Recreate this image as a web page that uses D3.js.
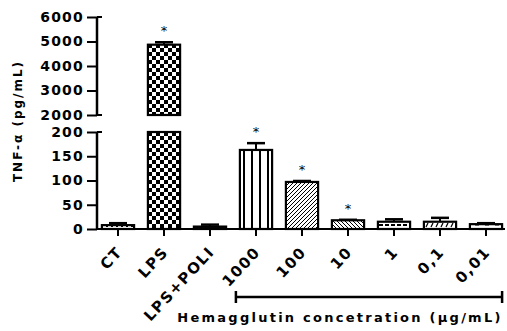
<!DOCTYPE html>
<html>
<head>
<script src="https://cdn.jsdelivr.net/npm/d3@7"></script>
<style>
  body { margin: 0; background: #fff; }
  svg { display: block; }
  text { font-family: "DejaVu Sans", sans-serif; font-weight: bold; fill: #000; }
</style>
</head>
<body>
<svg id="chart" width="507" height="331"></svg>
<script>
// data
var groups = ["CT", "LPS", "LPS+POLI", "1000", "100", "10", "1", "0,1", "0,01"];
var means  = [8, 4870, 5, 163, 97, 18, 15, 15, 10];
var errs   = [4, 100, 4, 14, 2, 1, 5, 8, 2];
var sig    = [false, true, false, true, true, true, false, false, false];
var fills  = ["dots", "checker", "solid", "vstripe", "hatchR", "hatchL", "bricks", "dashR", "dashH"];
var upperTicks = [2000, 3000, 4000, 5000, 6000];
var lowerTicks = [0, 50, 100, 150, 200];
var bracketFrom = "1000", bracketTo = "0,01";
var yTitle = "TNF-\u03b1 (pg/mL)";
var xTitle = "Hemagglutin concetration (\u00b5g/mL)";

var svg = d3.select("#chart");
var axisX = 97;

var x = d3.scaleBand().domain(groups).range([95, 509]).paddingInner(0.3).paddingOuter(0.15);
var yLow = d3.scaleLinear().domain([0, 200]).range([229, 132]);
var yUp = d3.scaleLinear().domain([2000, 6000]).range([115, 17]);

function yOf(v) { return v <= 200 ? yLow(v) : yUp(v); }

/*** patterns ***/
var defs = svg.append("defs");
function pat(id, w, h) {
  var p = defs.append("pattern").attr("id", id).attr("patternUnits", "userSpaceOnUse")
    .attr("width", w).attr("height", h);
  p.append("rect").attr("width", w).attr("height", h).attr("fill", "#fff");
  return p;
}
var p;
p = pat("dots", 5, 4);
p.append("rect").attr("x", 1).attr("y", 1).attr("width", 2).attr("height", 2).attr("fill", "#000");
p = pat("checker", 8, 8);
p.append("rect").attr("width", 4).attr("height", 4).attr("fill", "#000");
p.append("rect").attr("x", 4).attr("y", 4).attr("width", 4).attr("height", 4).attr("fill", "#000");
p = pat("solid", 4, 4);
p.select("rect").attr("fill", "#111");
p = pat("vstripe", 8, 8);
p.append("rect").attr("x", 3).attr("width", 2).attr("height", 8).attr("fill", "#000");
p = pat("hatchR", 4, 4);
p.append("path").attr("d", "M-1,1 L1,-1 M0,4 L4,0 M3,5 L5,3").attr("stroke", "#000").attr("stroke-width", 1);
p = pat("hatchL", 4, 4);
p.append("path").attr("d", "M-1,3 L1,5 M0,0 L4,4 M3,-1 L5,1").attr("stroke", "#000").attr("stroke-width", 1);
p = pat("bricks", 6, 6);
p.append("rect").attr("x", 1).attr("y", 2).attr("width", 4).attr("height", 2).attr("fill", "#000");
p = pat("dashR", 5, 6);
p.append("path").attr("d", "M1,5 L3,1").attr("stroke", "#000").attr("stroke-width", 1.2);
p = pat("dashH", 10, 6);
p.append("rect").attr("x", 5).attr("y", 2).attr("width", 4).attr("height", 1.5).attr("fill", "#000");

/*** bars ***/
var bars = svg.append("g");
groups.forEach(function(g, i) {
  var v = means[i];
  var bx = x(g), bw = x.bandwidth();
  var f = "url(#" + fills[i] + ")";
  if (v <= 200) {
    bars.append("rect").attr("x", bx).attr("y", yLow(v)).attr("width", bw)
      .attr("height", yLow(0) - yLow(v)).attr("fill", f).attr("stroke", "#000").attr("stroke-width", 2.2);
  } else {
    bars.append("rect").attr("x", bx).attr("y", yLow(200)).attr("width", bw)
      .attr("height", yLow(0) - yLow(200)).attr("fill", f).attr("stroke", "#000").attr("stroke-width", 2.2);
    bars.append("rect").attr("x", bx).attr("y", yUp(v)).attr("width", bw)
      .attr("height", yUp(2000) - yUp(v)).attr("fill", f).attr("stroke", "#000").attr("stroke-width", 2.2);
  }
  // error bar (upper only)
  var cx = bx + bw / 2, top = yOf(v + errs[i]);
  bars.append("line").attr("x1", cx).attr("x2", cx).attr("y1", yOf(v)).attr("y2", top)
    .attr("stroke", "#000").attr("stroke-width", 2);
  bars.append("line").attr("x1", cx - 9).attr("x2", cx + 9).attr("y1", top).attr("y2", top)
    .attr("stroke", "#000").attr("stroke-width", 2.5);
  if (sig[i]) {
    bars.append("text").attr("x", cx).attr("y", top - 7).attr("text-anchor", "middle")
      .style("font-size", "13px").style("font-weight", "normal").text("*");
  }
});

/*** y axis (broken) ***/
function yAxis(scale, ticks) {
  var g = svg.append("g").attr("transform", "translate(" + axisX + ",0)")
    .call(d3.axisLeft(scale).tickValues(ticks).tickSize(10).tickPadding(3).tickFormat(d3.format("d")));
  g.select(".domain").attr("d", "M0," + scale.range()[0] + "V" + scale.range()[1])
    .attr("stroke", "#000").attr("stroke-width", 2.5);
  g.selectAll(".tick line").attr("stroke", "#000").attr("stroke-width", 2);
  g.selectAll(".tick text").style("font-size", "14px").style("letter-spacing", "1.2px").attr("fill", "#000");
  g.attr("font-family", null).attr("font-size", null);
  return g;
}
yAxis(yUp, upperTicks);
yAxis(yLow, lowerTicks);
// small end stubs of the axis break
[yUp(6000), yUp(2000), yLow(200)].forEach(function(yy) {
  svg.append("line").attr("x1", axisX).attr("x2", axisX + 5).attr("y1", yy).attr("y2", yy)
    .attr("stroke", "#000").attr("stroke-width", 2);
});

/*** x axis ***/
var xg = svg.append("g").attr("transform", "translate(0," + yLow(0) + ")")
  .call(d3.axisBottom(x).tickSize(7).tickFormat(""));
xg.select(".domain").attr("d", "M" + axisX + ",0H505").attr("stroke", "#000").attr("stroke-width", 2);
xg.selectAll(".tick line").attr("stroke", "#000").attr("stroke-width", 2);

svg.append("g").selectAll("text").data(groups).enter().append("text")
  .attr("transform", function(d) { return "translate(" + (x(d) + x.bandwidth() / 2 - 3) + "," + (yLow(0) + 16) + ") rotate(-47)"; })
  .attr("text-anchor", "end").attr("dy", "0.75em")
  .style("font-size", "15px").style("letter-spacing", "1.5px")
  .text(function(d) { return d; });

/*** bracket ***/
var bx0 = x(bracketFrom) - 4, bx1 = x(bracketTo) + x.bandwidth(), by = 297;
svg.append("path").attr("d", "M" + bx0 + "," + (by - 6) + "V" + (by + 6) + "M" + bx0 + "," + by + "H" + bx1 +
  "M" + bx1 + "," + (by - 6) + "V" + (by + 6)).attr("stroke", "#000").attr("stroke-width", 2.5).attr("fill", "none");

svg.append("text").attr("x", 340).attr("y", 322).attr("text-anchor", "middle")
  .style("font-size", "13px").style("letter-spacing", "2.25px").text(xTitle);

svg.append("text").attr("transform", "translate(22,121) rotate(-90)").attr("text-anchor", "middle")
  .style("font-size", "12px").style("letter-spacing", "2px").text(yTitle);
</script>
</body>
</html>
